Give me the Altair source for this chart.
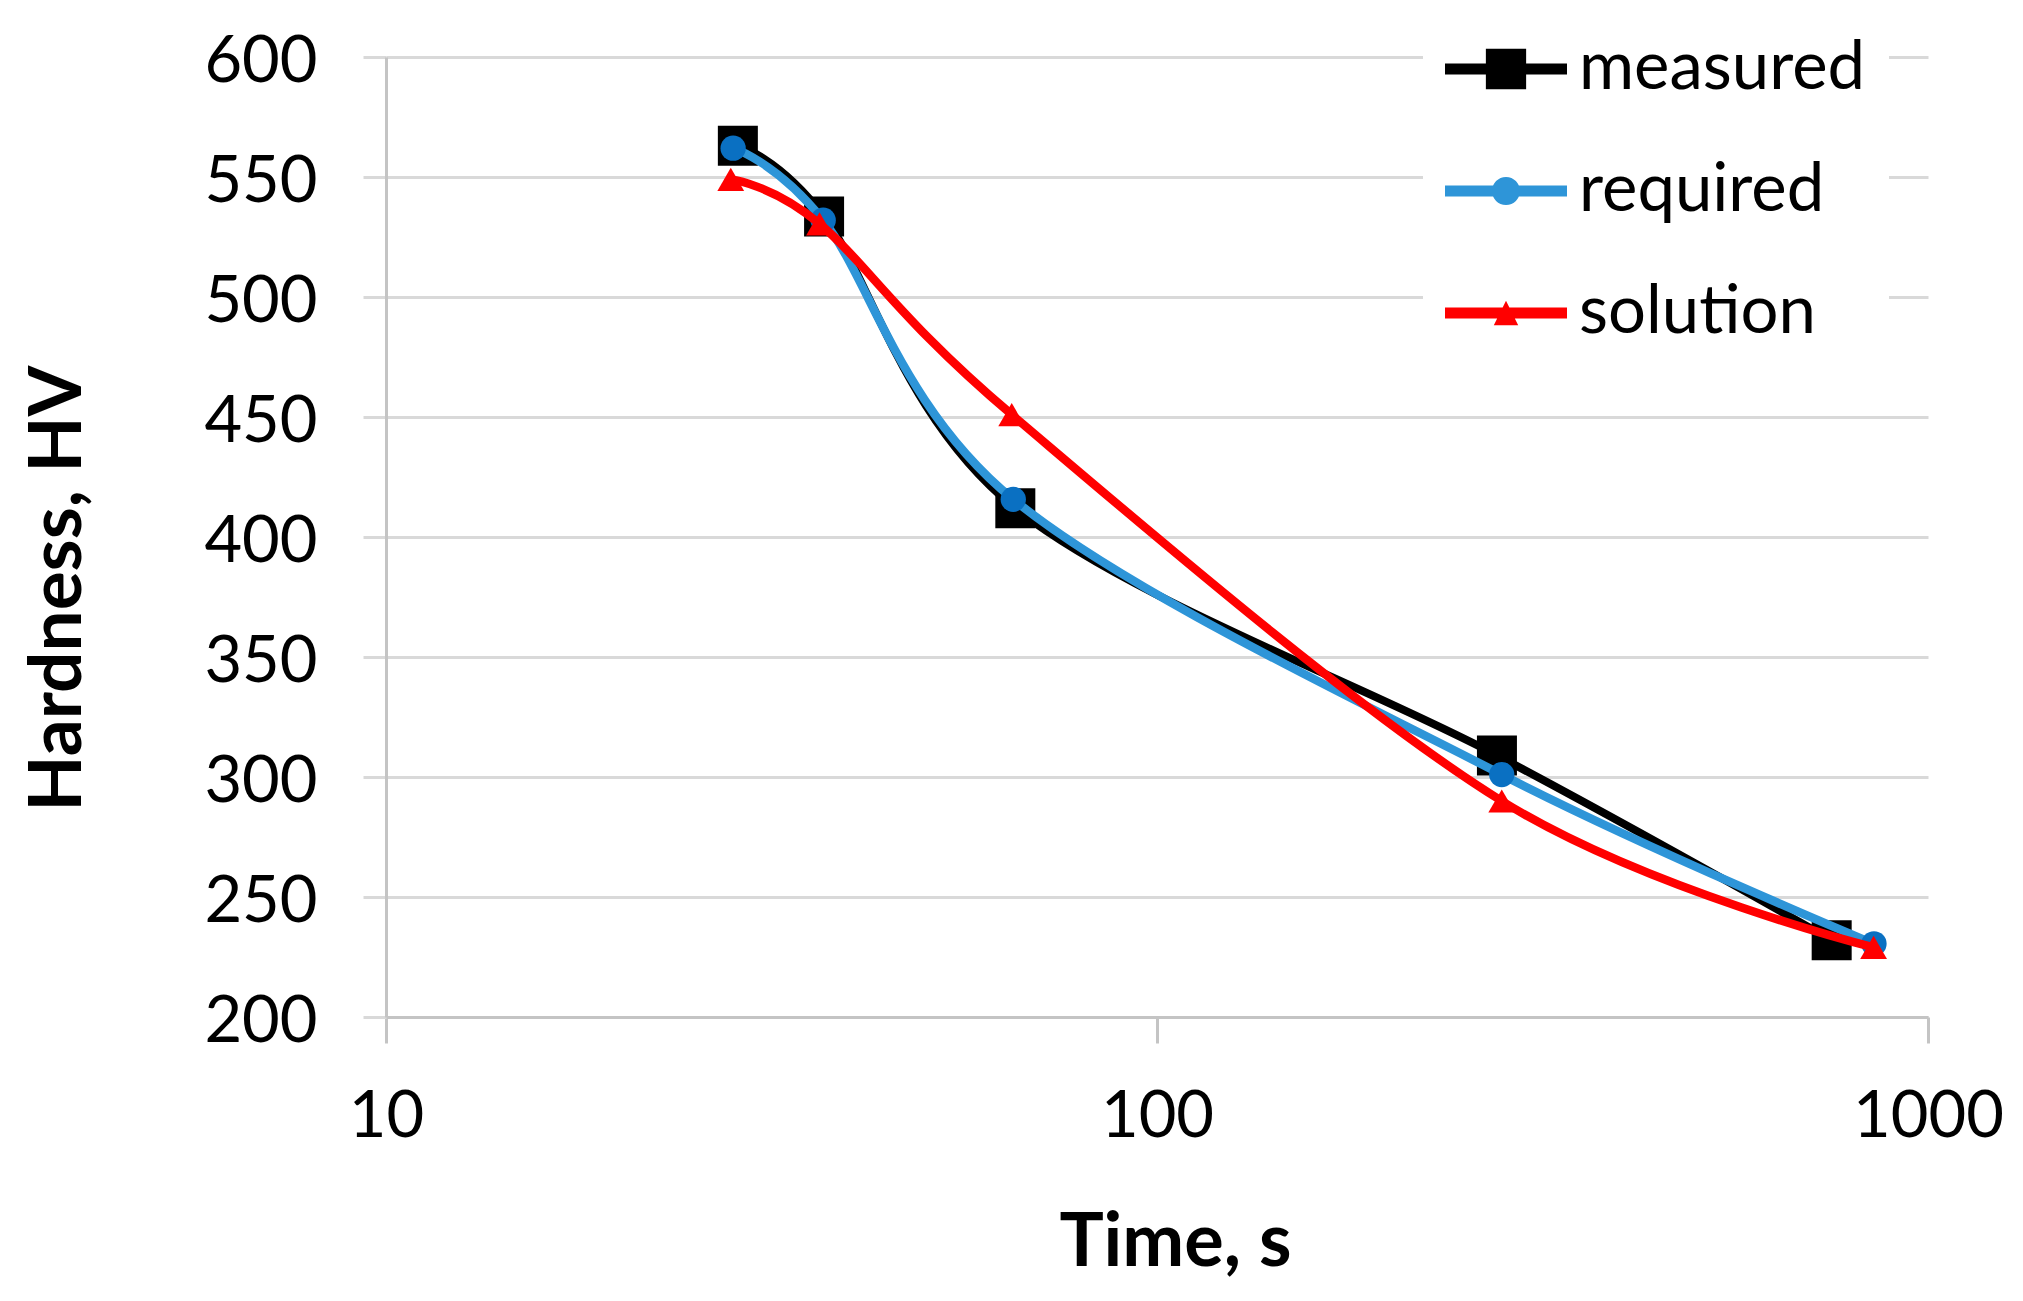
import altair as alt
import pandas as pd

# ---- data ----
series_names = ["measured", "required", "solution"]

measured_t = [28.6, 37.0, 65.5, 276, 750]
measured_hv = [563, 533.5, 412, 309, 232]

required_t = [28.2, 36.9, 65.1, 280, 851]
required_hv = [562, 532, 415.7, 301, 230.5]

solution_t = [28.0, 36.5, 64.8, 280, 850]
solution_hv = [549, 530.5, 451, 290, 229]

x_ticks = [10, 100, 1000]
y_ticks = [200, 250, 300, 350, 400, 450, 500, 550, 600]

line_colors = ["#000000", "#2E95D8", "#FF0000"]
marker_colors = ["#000000", "#0A70C2", "#FF0000"]
marker_shapes = ["square", "circle", "triangle-up"]
marker_sizes = [1600, 640, 720]
line_widths = [8, 8.5, 8.5]

# legend symbols: line with marker in the middle (unit square -1..1)
legend_paths = [
    "M-1,-0.09H-0.33V0.09H-1Z M0.33,-0.09H1V0.09H0.33Z M-0.33,-0.33H0.33V0.33H-0.33Z",
    "M-1,-0.09H-0.2V0.09H-1Z M0.2,-0.09H1V0.09H0.2Z M-0.23,0A0.23,0.23 0 1,1 0.23,0A0.23,0.23 0 1,1 -0.23,0Z",
    "M-1,-0.09H1V0.09H-1Z M0,-0.2L0.2,0.2H-0.2Z",
]

rows = []
for name, ts, hs in [
    ("measured", measured_t, measured_hv),
    ("required", required_t, required_hv),
    ("solution", solution_t, solution_hv),
]:
    for i, (t, h) in enumerate(zip(ts, hs)):
        rows.append({"series": name, "time": t, "hv": h, "order": i})
df = pd.DataFrame(rows)

FONT = "Lato"

x_enc = alt.X(
    "time:Q",
    scale=alt.Scale(type="log", domain=[10, 1000], nice=False),
    axis=alt.Axis(
        values=x_ticks,
        format="d",
        title="Time, s",
        grid=False,
        domain=True,
        domainColor="#C4C4C4",
        domainWidth=3,
        ticks=True,
        tickSize=26,
        tickColor="#C4C4C4",
        tickWidth=3,
        labelFont=FONT,
        labelFontSize=65,
        labelColor="#000000",
        labelBaseline="alphabetic",
        labelPadding=93,
        labelFlush=False,
        labelOverlap=False,
        titleFont=FONT,
        titleFontSize=74,
        titleFontWeight="bold",
        titleColor="#000000",
        titleAlign="center",
        titleBaseline="alphabetic",
        titleX=789,
        titleY=248,
    ),
)

y_enc = alt.Y(
    "hv:Q",
    scale=alt.Scale(domain=[200, 600], nice=False, zero=False),
    axis=alt.Axis(
        values=y_ticks,
        title="Hardness, HV",
        grid=True,
        gridColor="#D9D9D9",
        gridWidth=3,
        domain=True,
        domainColor="#C4C4C4",
        domainWidth=3,
        ticks=True,
        tickSize=23,
        tickColor="#D9D9D9",
        tickWidth=3,
        labelFont=FONT,
        labelFontSize=65,
        labelColor="#000000",
        labelBaseline="alphabetic",
        labelOffset=24,
        labelPadding=46,
        labelFlush=False,
        labelOverlap=False,
        titleFont=FONT,
        titleFontSize=73,
        titleFontWeight="bold",
        titleColor="#000000",
        titleAngle=270,
        titleAlign="center",
        titleBaseline="alphabetic",
        titleX=-306,
        titleY=531,
    ),
)

base = alt.Chart(df)

layers = []
for i, name in enumerate(series_names):
    sub = base.transform_filter(alt.datum.series == name)
    line = sub.mark_line(
        interpolate="cardinal",
        color=line_colors[i],
        strokeWidth=line_widths[i],
        strokeCap="round",
        strokeJoin="round",
    ).encode(x=x_enc, y=y_enc, order="order:Q")
    pts = sub.mark_point(
        shape=marker_shapes[i],
        filled=True,
        color=marker_colors[i],
        size=marker_sizes[i],
        opacity=1,
    ).encode(x=x_enc, y=y_enc)
    layers += [line, pts]

legend_props = dict(
    title=None,
    orient="none",
    legendX=1037,
    legendY=-71,
    padding=22,
    fillColor="#FFFFFF",
    strokeColor="#FFFFFF",
    symbolSize=14884,
    symbolStrokeWidth=0,
    symbolOpacity=1,
    labelFont=FONT,
    labelFontSize=67,
    labelColor="#000000",
    labelOffset=12,
    labelLimit=600,
    rowPadding=28,
)

legend_layer = (
    base.transform_filter(alt.datum.order == 0)
    .mark_point(filled=True, opacity=0, strokeWidth=0)
    .encode(
        color=alt.Color(
            "series:N",
            scale=alt.Scale(domain=series_names, range=line_colors),
            legend=alt.Legend(**legend_props),
        ),
        shape=alt.Shape(
            "series:N",
            scale=alt.Scale(domain=series_names, range=legend_paths),
            legend=alt.Legend(**legend_props),
        ),
    )
)

chart = (
    alt.layer(*layers, legend_layer)
    .properties(
        width=1542,
        height=960,
        autosize=alt.AutoSizeParams(type="none"),
        padding={"left": 378, "top": 49, "right": 80, "bottom": 276},
        background="#FFFFFF",
    )
    .configure_view(stroke=None)
)

chart.save("out.html", embed_options={"renderer": "svg", "actions": False})
